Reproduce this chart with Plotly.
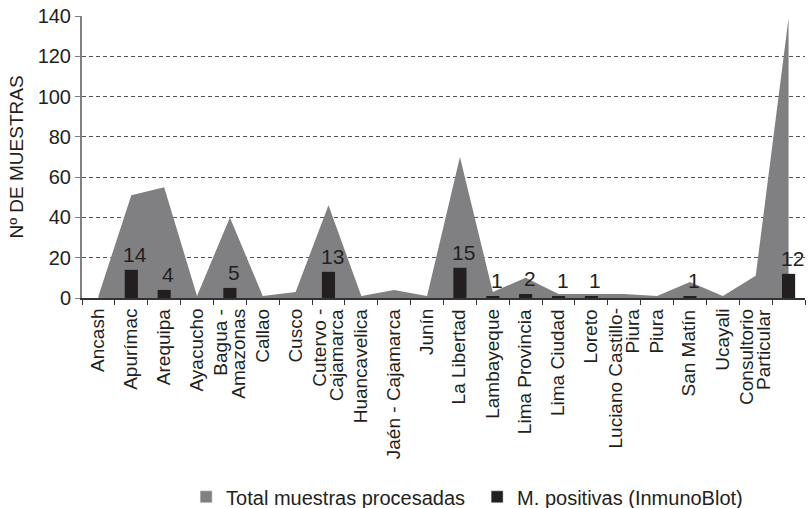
import plotly.graph_objects as go

categories = ["Ancash", "Apurímac", "Arequipa", "Ayacucho", "Bagua -\nAmazonas", "Callao",
              "Cusco", "Cutervo -\nCajamarca", "Huancavelica", "Jaén - Cajamarca", "Junín",
              "La Libertad", "Lambayeque", "Lima Provincia", "Lima Ciudad", "Loreto",
              "Luciano Castillo-\nPiura", "Piura", "San Matín", "Ucayali",
              "Consultorio\nParticular", " "]
total = [1, 51, 55, 1, 40, 1, 3, 46, 1, 4, 1, 70, 3, 10, 2, 2, 2, 1, 8, 1, 11, 139]
positive = [0, 14, 4, 0, 5, 0, 0, 13, 0, 0, 0, 15, 1, 2, 1, 1, 0, 0, 1, 0, 0, 12]
series_names = ["Total muestras procesadas", "M. positivas (InmunoBlot)"]
y_title = "Nº DE MUESTRAS"

GRAY = "#808083"
DARK = "#231f20"
FONT = "Liberation Sans, Arial, sans-serif"

fig = go.Figure()
fig.add_trace(go.Scatter(x=categories, y=total, mode="lines", fill="tozeroy",
                         line=dict(width=0, color=GRAY), fillcolor=GRAY,
                         showlegend=False, hoverinfo="skip"))
# bars on an overlaid subplot so that they are drawn above the area
fig.add_trace(go.Bar(x=categories, y=positive, width=0.4, marker_color=DARK,
                     marker_line_width=0, showlegend=False, xaxis="x2", yaxis="y2"))
# legend entries (square symbols)
fig.add_trace(go.Bar(x=[categories[0]], y=[None], name=series_names[0], marker_color=GRAY,
                     xaxis="x2", yaxis="y2"))
fig.add_trace(go.Bar(x=[categories[0]], y=[None], name=series_names[1], marker_color=DARK,
                     xaxis="x2", yaxis="y2"))

annotations = []
# value labels above the bars
for c, v in zip(categories, positive):
    if v > 0:
        annotations.append(dict(x=c, y=v, xref="x", yref="y", text=str(v), showarrow=False,
                                yanchor="bottom", xshift=4, yshift=2,
                                font=dict(size=21, color=DARK, family=FONT)))
# category labels (rotated, tight line spacing)
LINE_GAP = 17.5
for c in categories:
    lines = c.split("\n")
    n = len(lines)
    for i, ln in enumerate(lines):
        if not ln.strip():
            continue
        shift = (i - (n - 1) / 2) * LINE_GAP
        annotations.append(dict(x=c, y=0, xref="x", yref="paper", text=ln, showarrow=False,
                                textangle=-90, xanchor="center", yanchor="top",
                                xshift=shift - 1, yshift=-9,
                                font=dict(size=19, color=DARK, family=FONT)))

fig.update_layout(
    width=811, height=508,
    margin=dict(l=82, r=6, t=16, b=210, autoexpand=False),
    plot_bgcolor="white", paper_bgcolor="white",
    barmode="overlay",
    font=dict(family=FONT, color=DARK),
    annotations=annotations,
    legend=dict(orientation="h", x=0.144, xanchor="left",
                yref="container", y=0.022, yanchor="middle",
                bgcolor="rgba(0,0,0,0)", entrywidth=246, entrywidthmode="pixels",
                font=dict(size=20, color=DARK, family=FONT), itemclick=False),
    xaxis=dict(type="category", ticks="outside", tickson="boundaries",
               ticklen=5, tickcolor="#333333", showline=True, linecolor="#333333", linewidth=1.5,
               showticklabels=False, range=[-0.5, 21.5], showgrid=False, automargin=False,
               categoryorder="array", categoryarray=categories),
    xaxis2=dict(type="category", overlaying="x", matches="x", visible=False,
                categoryorder="array", categoryarray=categories),
    yaxis=dict(range=[0, 140], dtick=20, showgrid=True, gridcolor="#555555",
               griddash="4px,3px", gridwidth=1, zeroline=False,
               showline=True, linecolor="#808080", linewidth=2,
               ticks="outside", ticklen=5, tickcolor="#808080", automargin=False,
               ticklabeloverflow="allow",
               tickfont=dict(size=20, color=DARK, family=FONT),
               title=dict(text=y_title, standoff=9,
                          font=dict(size=19, color=DARK, family=FONT))),
    yaxis2=dict(overlaying="y", matches="y", visible=False),
)

fig.write_html("out.html", config={"displayModeBar": False},
               post_script="document.body.style.margin='0';")
